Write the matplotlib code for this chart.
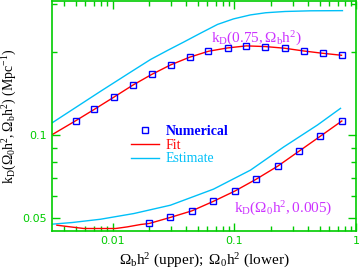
import matplotlib
matplotlib.use("Agg")
import matplotlib.pyplot as plt
from matplotlib.ticker import FixedLocator, NullFormatter

plt.rcParams['font.family'] = ['Liberation Serif', 'DejaVu Serif']
plt.rcParams['mathtext.fontset'] = 'custom'
plt.rcParams['mathtext.rm'] = 'Liberation Serif'
plt.rcParams['mathtext.it'] = 'Liberation Serif'
plt.rcParams['mathtext.bf'] = 'Liberation Serif:bold'

# upper family: k_D(0.75, Omega_b h^2) vs Omega_b h^2
up_num_x = [0.005, 0.0071, 0.0102, 0.0146, 0.0209, 0.0299, 0.0428, 0.0612,
            0.0877, 0.125, 0.179, 0.257, 0.368, 0.527, 0.754]
up_num_y = [0.1128, 0.1241, 0.1372, 0.1518, 0.1662, 0.1801, 0.1921, 0.2020,
            0.2077, 0.2113, 0.2101, 0.2072, 0.2025, 0.1986, 0.1953]
up_fit_x = [0.00316] + up_num_x
up_fit_y = [0.1] + up_num_y
up_est_x = [0.00318, 0.00797, 0.0142, 0.0205, 0.0283, 0.0382, 0.0526, 0.0726,
            0.0982, 0.135, 0.180, 0.260, 0.420, 0.767]
up_est_y = [0.1106, 0.1443, 0.1700, 0.1885, 0.2035, 0.2180, 0.2350, 0.2530,
            0.2650, 0.2740, 0.2790, 0.2820, 0.2836, 0.2840]

# lower family: k_D(Omega_0 h^2, 0.005) vs Omega_0 h^2
lo_num_x = [0.02, 0.0297, 0.0447, 0.0668, 0.1004, 0.1495, 0.2265, 0.3365, 0.5036, 0.758]
lo_num_y = [0.04762, 0.05008, 0.05293, 0.05728, 0.06246, 0.06891, 0.07706,
            0.08721, 0.09891, 0.1125]
lo_fit_x = [0.0035, 0.00453, 0.00582, 0.0106, 0.0132, 0.0170] + lo_num_x
lo_fit_y = [0.04693, 0.04627, 0.04565, 0.04565, 0.04627, 0.04721] + lo_num_y
lo_est_x = [0.00318, 0.00467, 0.00797, 0.01496, 0.02985, 0.0673, 0.1352,
            0.2524, 0.479, 0.7395]
lo_est_y = [0.04733, 0.04800, 0.04934, 0.05176, 0.05551, 0.06352, 0.07450,
            0.09041, 0.1088, 0.1251]

green = '#00cc00'
cyan = '#00c0f8'
purple = '#cc33ff'

fig = plt.figure(figsize=(3.59, 2.70), dpi=100)
ax = fig.add_axes([0.1435, 0.1444, 0.8495, 0.852])

est_line, = ax.plot(up_est_x, up_est_y, color=cyan, lw=1)
ax.plot(lo_est_x, lo_est_y, color=cyan, lw=1)
fit_line, = ax.plot(up_fit_x, up_fit_y, color='red', lw=1)
ax.plot(lo_fit_x, lo_fit_y, color='red', lw=1)
num_pts, = ax.plot(up_num_x, up_num_y, 's', mfc='none', mec='blue', ms=4.5, mew=1.0)
ax.plot(lo_num_x, lo_num_y, 's', mfc='none', mec='blue', ms=4.5, mew=1.0)

ax.set_xscale('log')
ax.set_yscale('log')
ax.set_xlim(10 ** -2.5, 1)
ax.set_ylim(0.0447, 0.308)

ax.xaxis.set_major_locator(FixedLocator([0.01, 0.1, 1]))
ax.set_xticklabels(['0.01', '0.1', '1'])
xminor = [a * b for b in (0.001, 0.01, 0.1) for a in range(2, 10)]
ax.xaxis.set_minor_locator(FixedLocator(xminor))
ax.xaxis.set_minor_formatter(NullFormatter())
ax.yaxis.set_major_locator(FixedLocator([0.05, 0.1]))
ax.set_yticklabels(['0.05', '0.1'])
ax.yaxis.set_minor_locator(FixedLocator([0.06, 0.07, 0.08, 0.09, 0.2, 0.3]))
ax.yaxis.set_minor_formatter(NullFormatter())

ax.tick_params(which='both', direction='in', top=True, right=True, color=green,
               labelcolor=green, labelsize=8)
ax.tick_params(which='major', length=6, width=1)
ax.tick_params(which='minor', length=3.5, width=1)
for lab in ax.get_xticklabels() + ax.get_yticklabels():
    lab.set_family('DejaVu Sans')
for s in ax.spines.values():
    s.set_color(green)
    s.set_linewidth(1.2)

ax.set_xlabel(r'$\mathrm{\Omega_bh^2\ (upper);\ \Omega_0h^2\ (lower)}$', fontsize=11, labelpad=4)
ax.set_ylabel(r'$\mathrm{k_D(\Omega_0h^2,\Omega_bh^2)\ (Mpc^{-1})}$', fontsize=10, labelpad=2)

ax.text(0.524, 0.82, r'$\mathrm{k_D(0.75,\Omega_bh^2)}$', transform=ax.transAxes,
        color=purple, fontsize=11)
ax.text(0.6, 0.08, r'$\mathrm{k_D(\Omega_0h^2,0.005)}$', transform=ax.transAxes,
        color=purple, fontsize=11)

leg = ax.legend([num_pts, fit_line, est_line], ['Numerical', 'Fit', 'Estimate'],
                loc='upper left', bbox_to_anchor=(0.22, 0.515), frameon=False,
                fontsize=10, labelspacing=0.05, handlelength=2.0, handletextpad=0.5,
                labelcolor=['blue', 'red', cyan])
leg.get_texts()[0].set_fontweight('bold')

fig.savefig('out.png', dpi=100)
